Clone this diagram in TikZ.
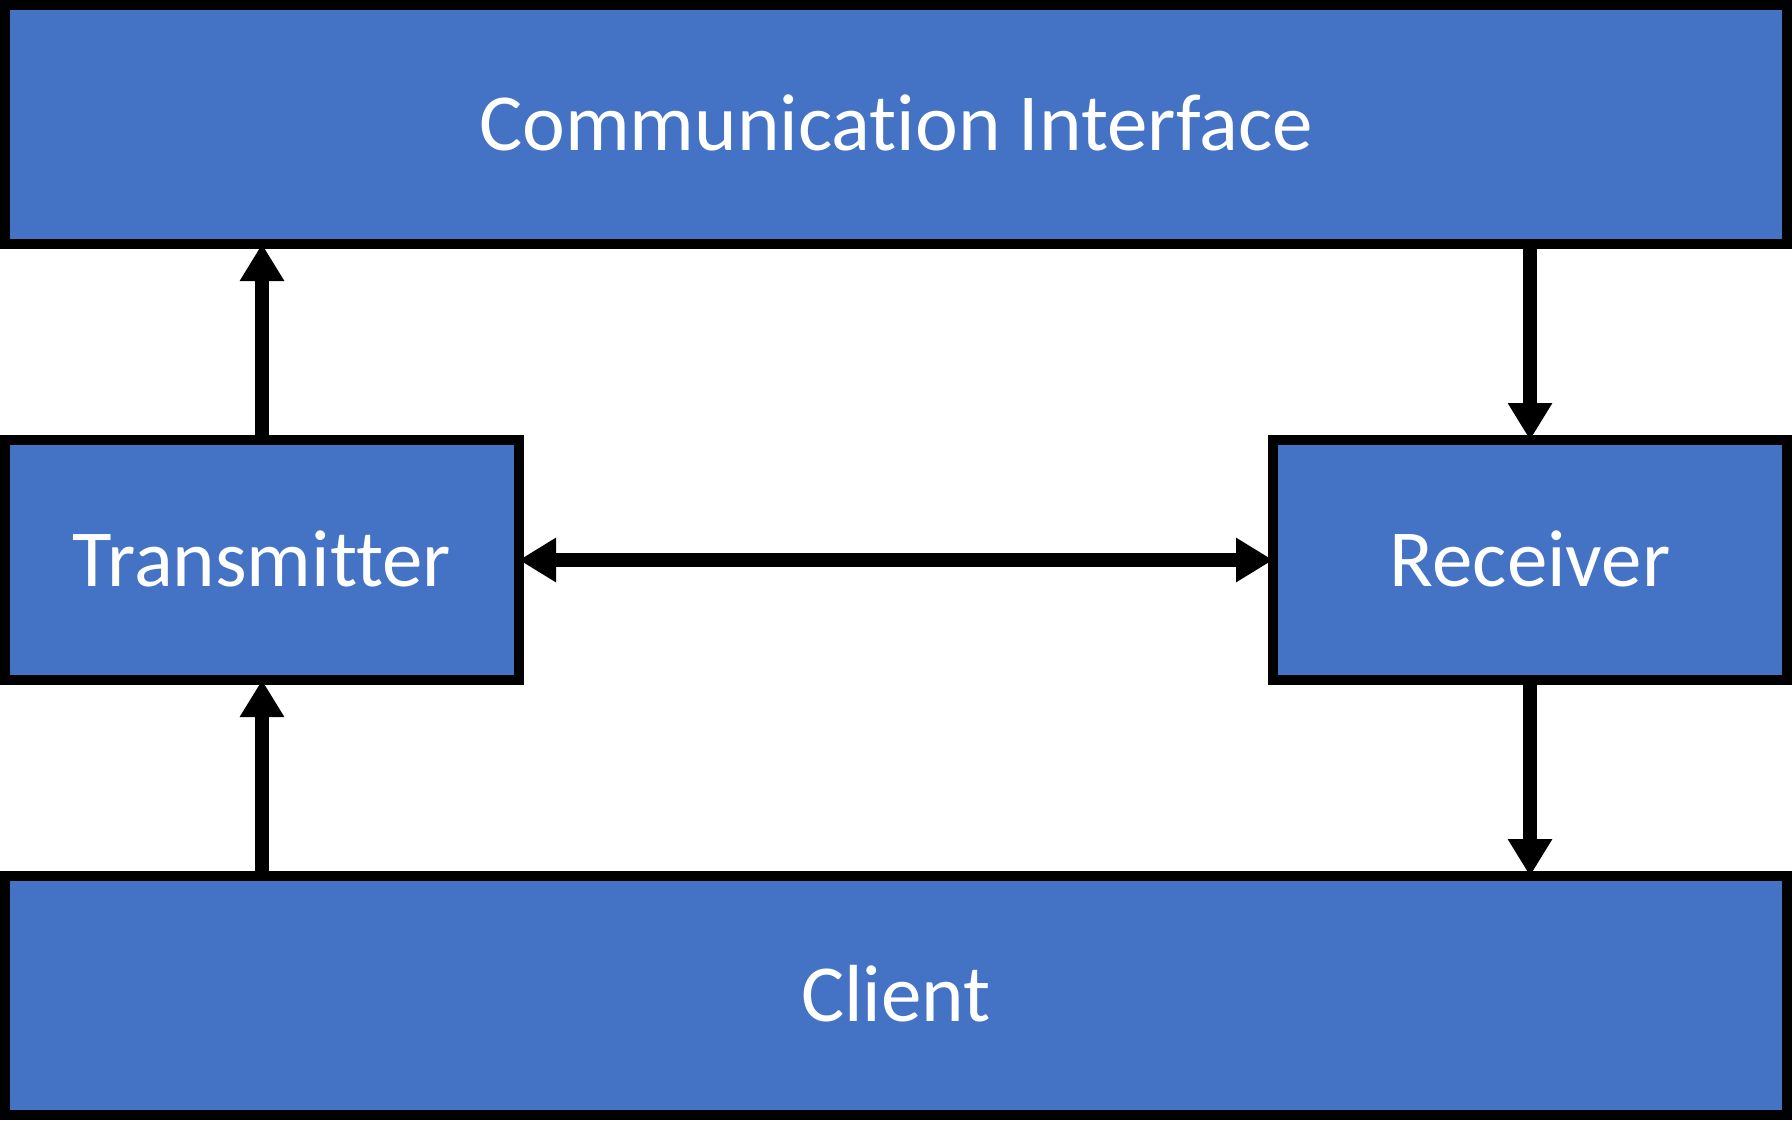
\documentclass[tikz,border=0pt]{standalone}
\usepackage{fontspec}
\setmainfont{Carlito}[Ligatures=CommonOff]
\usetikzlibrary{arrows.meta}
\definecolor{boxblue}{HTML}{4472C4}
\begin{document}
\begin{tikzpicture}[x=0.5pt,y=-0.5pt,
  blk/.style={draw=black, line width=5pt, fill=boxblue, text=white,
    font=\fontsize{40.5pt}{48pt}\selectfont, inner sep=0pt, outer sep=0pt,
    text height=26pt, text depth=0pt},
  arr/.style={line width=7pt, -{Triangle[length=18.5pt,width=21pt]}},
  arrboth/.style={line width=7pt, {Triangle[length=18.5pt,width=21pt]}-{Triangle[length=18.5pt,width=21pt]}}
]
\useasboundingbox (0,0) rectangle (1792,1120);
\node[blk, minimum width=891pt, minimum height=119.5pt] (ci) at (896,124.5) {Communication Interface};
\node[blk, minimum width=257pt, minimum height=120pt] (tx) at (262,560) {Transmitter};
\node[blk, minimum width=257pt, minimum height=120pt] (rx) at (1530,560) {Receiver};
\node[blk, minimum width=891pt, minimum height=119.5pt] (cl) at (896,995.5) {Client};
\draw[arr] (tx.north) -- (tx.north |- ci.south);
\draw[arr] (rx.north |- ci.south) -- (rx.north);
\draw[arr] (tx.south |- cl.north) -- (tx.south);
\draw[arr] (rx.south) -- (rx.south |- cl.north);
\draw[arrboth] (tx.east) -- (rx.west);
\end{tikzpicture}
\end{document}
